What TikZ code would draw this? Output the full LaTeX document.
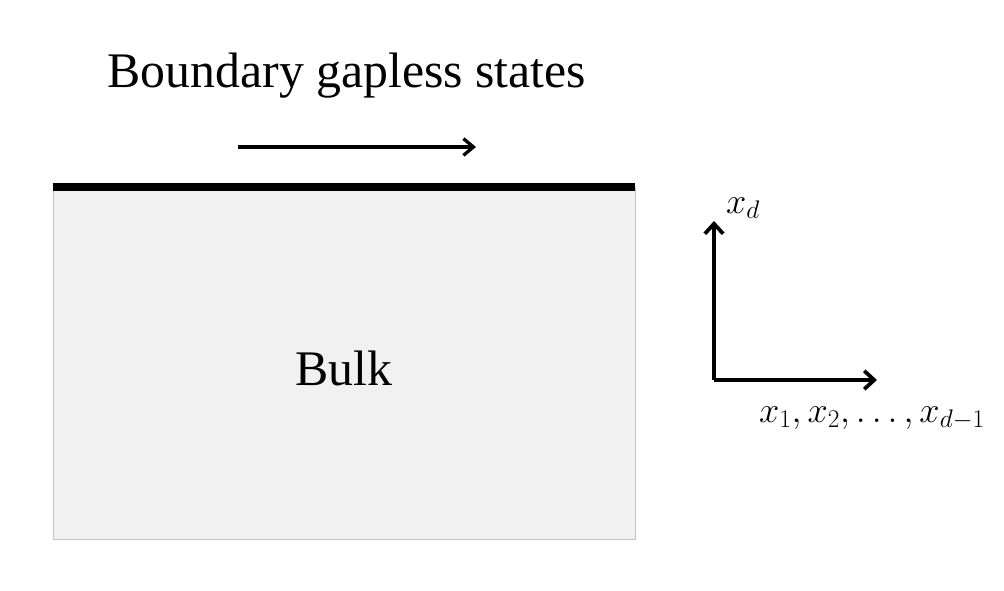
\RequirePackage{fix-cm}
\documentclass[tikz,border=0pt]{standalone}
\usepackage{fontspec}
\setmainfont{Liberation Serif}
\usetikzlibrary{arrows.meta, positioning}
\definecolor{bulkgray}{RGB}{241, 241, 241}
\definecolor{edgegray}{RGB}{196, 196, 196}

\begin{document}
\begin{tikzpicture}[
    x=0.03cm, y=-0.03cm,
    bulkbox/.style={rectangle, draw=edgegray, line width=0.8pt, fill=bulkgray,
                    minimum width=17.46cm, minimum height=10.56cm, inner sep=0pt,
                    font=\fontsize{42}{46}\selectfont},
    edge/.style={line width=6.8pt, black},
    arrow/.style={-{Straight Barb[length=3mm, width=5mm]}, line width=2.8pt},
    axis/.style={-{Straight Barb[length=3mm, width=5.5mm]}, line width=3.2pt},
    title/.style={font=\fontsize{42.5}{46}\selectfont},
    axlabel/.style={font=\fontsize{31}{35}\selectfont}
]
\useasboundingbox (0,0) rectangle (1004,591);

% bulk with gapless boundary on top
\node[bulkbox] (bulk) at (344,363) {};
\node[title] (bulktext) at (344,368) {Bulk};
\draw[edge] (bulk.north west) -- (bulk.north east);

% boundary label and direction
\node[title] (boundary) at (347,76) {Boundary gapless states};
\coordinate (flowstart) at (238,147);
\coordinate (flowend) at (476,147);
\draw[arrow] (flowstart) -- (flowend);

% axes
\coordinate (origin) at (714,380);
\coordinate (xdtip) at (714,221);
\coordinate (xtip) at (877,380);
\draw[axis] (origin) -- (xdtip);
\draw[axis] (origin) -- (xtip);
\node[axlabel] (xdlabel) at (743,208) {$x_d$};
\node[axlabel] (xlabel) at (872,418) {$x_1, x_2, \ldots, x_{d-1}$};
\end{tikzpicture}
\end{document}
